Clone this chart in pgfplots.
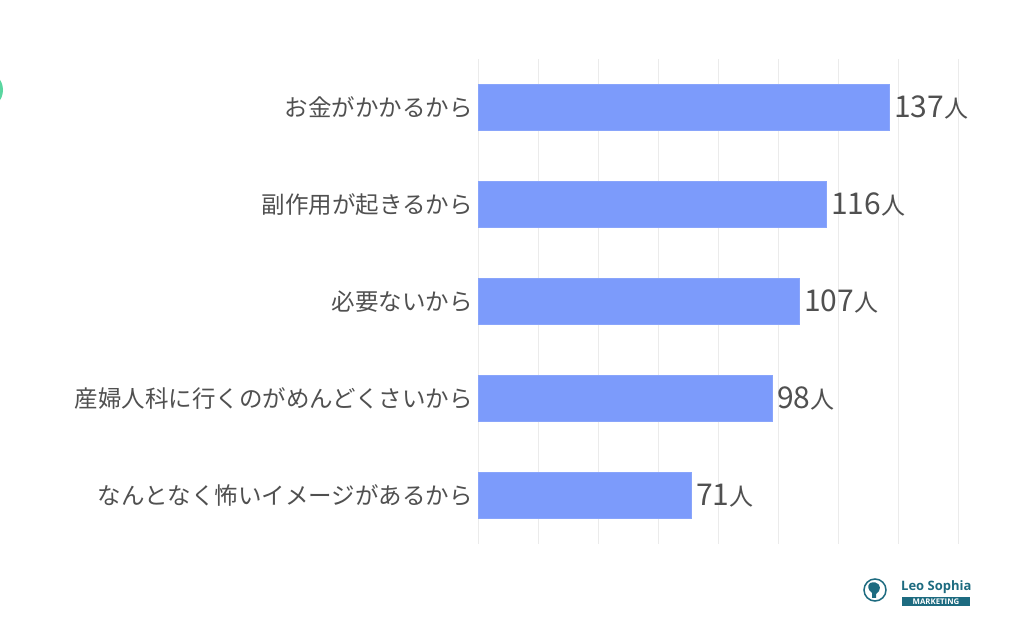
\documentclass[border=0pt]{standalone}
\usepackage{pgfplots}
\pgfplotsset{compat=1.18}
\usepackage{fontspec}
\setmainfont{Noto Sans CJK JP}
\newfontfamily\logofont{Open Sans}
\definecolor{barblue}{HTML}{7C9BFB}
\definecolor{gridgray}{HTML}{EBEBEB}
\definecolor{txtgray}{HTML}{505050}
\definecolor{teal}{HTML}{1D6B80}
\definecolor{mint}{HTML}{5AD6A0}
\begin{document}
\begin{tikzpicture}[x=1bp,y=1bp]
\path[use as bounding box,fill=white] (0,0) rectangle (1024,627);
\fill[mint] (-16,537) circle (19);
\begin{axis}[
  at={(478bp,83bp)}, anchor=south west,
  scale only axis, width=480bp, height=485bp,
  xbar, bar width=46bp,
  xmin=0, xmax=160, ymin=0.5, ymax=5.5,
  xtick={0,20,...,160}, xticklabels={},
  xmajorgrids, grid style={gridgray, line width=1bp},
  ytick={1,2,3,4,5},
  yticklabels={なんとなく怖いイメージがあるから,産婦人科に行くのがめんどくさいから,必要ないから,副作用が起きるから,お金がかかるから},
  yticklabel style={font=\fontsize{23.5bp}{28bp}\selectfont, text=txtgray, inner sep=0pt, xshift=-5bp},
  major tick length=0pt,
  axis line style={draw=none},
  point meta=x,
  /pgf/number format/assume math mode=true,
  nodes near coords={\pgfmathprintnumber{\pgfplotspointmeta}{\fontsize{24bp}{28bp}\selectfont 人}},
  nodes near coords style={font=\fontsize{30bp}{32bp}\selectfont, text=txtgray, inner sep=0pt, xshift=5bp},
  clip=false,
]
\addplot[fill=barblue, draw=barblue!90!white] coordinates {(71,1) (98,2) (107,3) (116,4) (137,5)};
\end{axis}
% logo
\draw[teal, line width=1.5bp] (875,37) circle (11);
\fill[teal] (870,44) .. controls (878,47) and (882,40) .. (879,36) -- (876,33) -- (876,29) -- (872,29) -- (872,34) .. controls (868,37) and (867,41) .. (870,44) -- cycle;
\node[anchor=west, inner sep=0pt, text=teal, font=\logofont\bfseries\fontsize{13bp}{14bp}\selectfont] at (901,40) {Leo Sophia};
\fill[teal] (902,21) rectangle (970,30);
\node[inner sep=0pt, text=white, font=\logofont\bfseries\fontsize{7.8bp}{8bp}\selectfont] at (936,25.5) {MARKETING};
\end{tikzpicture}
\end{document}
